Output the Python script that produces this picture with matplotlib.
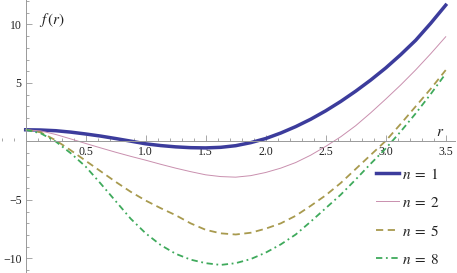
import matplotlib
matplotlib.use('Agg')
import matplotlib.pyplot as plt
import numpy as np
from matplotlib.ticker import MultipleLocator

plt.rcParams['font.family'] = ['Liberation Serif', 'DejaVu Serif']
plt.rcParams['mathtext.fontset'] = 'stix'

# values, step 0.125 in r
r = [0.0, 0.125, 0.25, 0.375, 0.5, 0.625, 0.75, 0.875, 1.0, 1.125, 1.25,
     1.375, 1.5, 1.625, 1.75, 1.875, 2.0, 2.125, 2.25, 2.375, 2.5, 2.625,
     2.75, 2.875, 3.0, 3.125, 3.25, 3.375, 3.5]

f_n1 = [1.0, 0.98, 0.92, 0.8, 0.64, 0.46, 0.25, 0.03, -0.2, -0.35, -0.46,
        -0.53, -0.55, -0.5, -0.36, -0.1, 0.25, 0.72, 1.27, 1.9, 2.62, 3.42,
        4.3, 5.25, 6.28, 7.42, 8.65, 10.1, 11.65]
f_n2 = [1.0, 0.9, 0.6, 0.22, -0.17, -0.55, -0.92, -1.27, -1.6, -1.95, -2.28,
        -2.58, -2.85, -3.0, -3.05, -2.92, -2.65, -2.28, -1.8, -1.17, -0.42, 0.4,
        1.35, 2.45, 3.62, 4.83, 6.12, 7.5, 8.95]
f_n5 = [1.0, 0.78, 0.1, -0.75, -1.65, -2.55, -3.45, -4.3, -5.05, -5.7, -6.3,
        -7.0, -7.55, -7.85, -7.95, -7.8, -7.45, -7.0, -6.35, -5.5, -4.6, -3.55,
        -2.35, -1.15, 0.05, 1.5, 3.0, 4.5, 6.1]
f_n8 = [1.0, 0.7, 0.0, -1.0, -2.15, -3.6, -5.1, -6.6, -7.85, -8.85, -9.6,
        -10.1, -10.4, -10.55, -10.4, -10.05, -9.5, -8.8, -7.95, -6.85, -5.7, -4.55,
        -3.25, -1.9, -0.6, 0.85, 2.4, 4.05, 5.8]

labels = ['$n\\;=\\;1$', '$n\\;=\\;2$', '$n\\;=\\;5$', '$n\\;=\\;8$']

fig = plt.figure(figsize=(4.57, 2.73), dpi=100)
ax = fig.add_axes([0, 0, 1, 1])

ax.plot(r, f_n1, color='#3c3c9c', lw=2.5, label=labels[0])
ax.plot(r, f_n2, color='#c98fae', lw=0.7, label=labels[1])
ax.plot(r, f_n5, color='#a89a4e', lw=1.3, dashes=(4, 2.5), label=labels[2])
ax.plot(r, f_n8, color='#3faa5c', lw=1.3, dashes=(3.5, 2, 1, 2), label=labels[3])

ax.set_xlim(-0.214, 3.594)
ax.set_ylim(-11.24, 12.09)

for s in ['top', 'right']:
    ax.spines[s].set_visible(False)
ax.spines['left'].set_position(('data', 0))
ax.spines['bottom'].set_position(('data', 0))
ax.spines['left'].set_bounds(-11.3, 12.09)
ax.spines['bottom'].set_bounds(0, 3.58)
for s in ['left', 'bottom']:
    ax.spines[s].set_color('#999999')
    ax.spines[s].set_linewidth(0.7)

ax.set_xticks([0.5, 1.0, 1.5, 2.0, 2.5, 3.0, 3.5])
ax.set_xticklabels(['0.5', '1.0', '1.5', '2.0', '2.5', '3.0', '3.5'])
ax.set_yticks([-10, -5, 5, 10])
ax.set_yticklabels(['\u221210', '\u22125', '5', '10'])
ax.xaxis.set_minor_locator(MultipleLocator(0.1))
ax.yaxis.set_minor_locator(MultipleLocator(1))
ax.tick_params(which='both', direction='in', color='#999999', width=0.6,
               labelsize=8.5, labelcolor='#222222')
ax.tick_params(which='major', length=4)
ax.tick_params(which='minor', length=2.3)
ax.tick_params(axis='x', pad=3.5)
ax.tick_params(axis='y', pad=3)

ax.text(0.11, 10.4, '$f\\,(r)$', fontsize=11, color='#222222',
        ha='left', va='center')
ax.text(3.45, 0.75, '$r$', fontsize=11, color='#222222', ha='center', va='center')

leg = ax.legend(loc='upper left', bbox_to_anchor=(0.822, 0.39), frameon=False,
                fontsize=11, handlelength=1.5, handletextpad=0.25,
                labelspacing=0.92, borderaxespad=0, borderpad=0)
for t in leg.get_texts():
    t.set_color('#222222')

fig.savefig('out.png', dpi=100)
